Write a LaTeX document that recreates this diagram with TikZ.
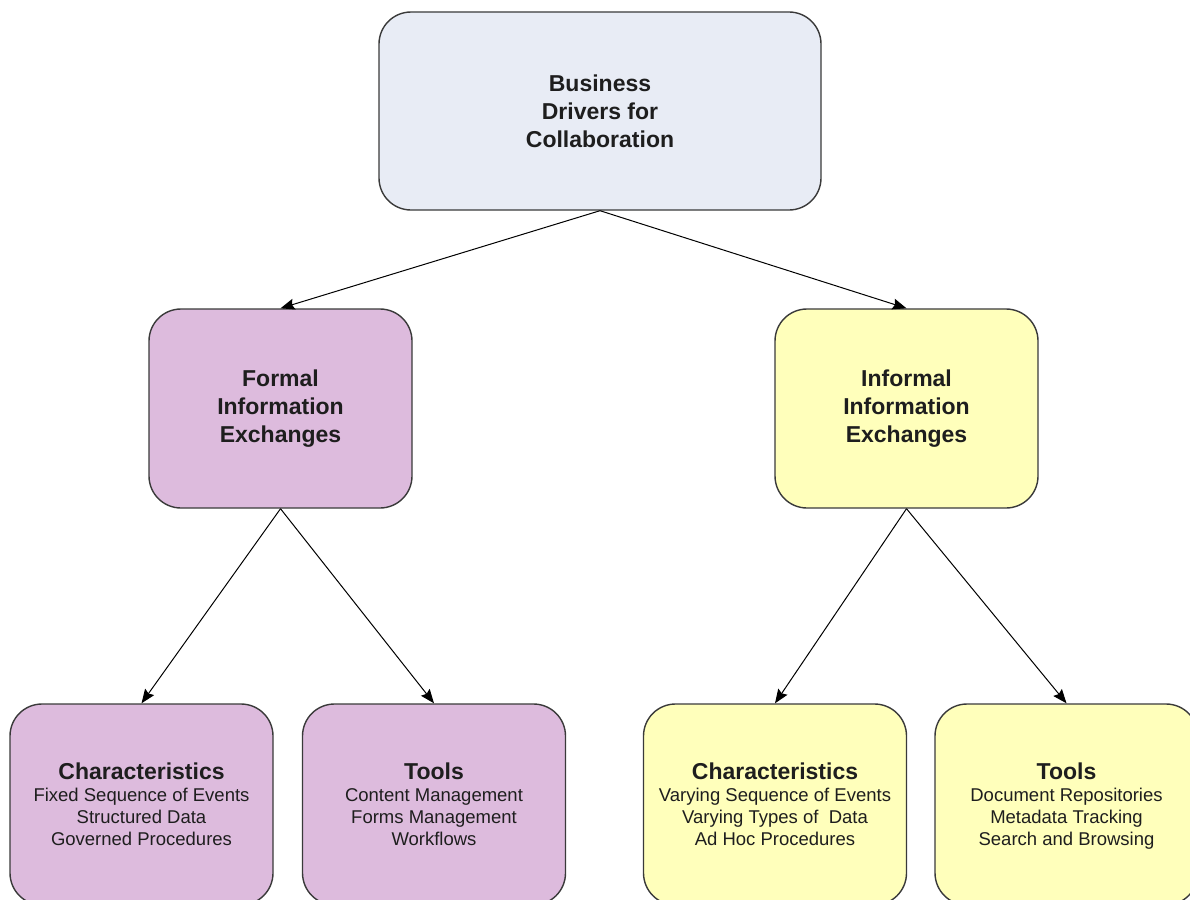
\documentclass[tikz,border=0pt]{standalone}
\usepackage{fontspec}
\setmainfont{Liberation Sans}
\usetikzlibrary{arrows.meta}
\definecolor{topfill}{HTML}{E8ECF5}
\definecolor{purplefill}{HTML}{DDBBDD}
\definecolor{yellowfill}{HTML}{FFFFBB}
\definecolor{edgegray}{HTML}{3A3A3A}
\definecolor{txt}{HTML}{1E1E1E}
\newcommand{\hdr}[1]{{\fontsize{23}{25}\selectfont\bfseries #1}}
\tikzset{
  box/.style={draw=edgegray, line width=1.4pt, rounded corners=32pt, align=center, text=txt, inner sep=0pt},
  bigbox/.style={box, minimum width=442pt, minimum height=198pt, fill=topfill, font=\fontsize{23}{28}\selectfont\bfseries},
  midbox/.style={box, minimum width=263pt, minimum height=199pt, font=\fontsize{23}{28}\selectfont\bfseries},
  lowbox/.style={box, minimum width=263pt, minimum height=201pt},
  lowtext/.style={align=center, text=txt, inner sep=0pt, font=\fontsize{18.5}{22}\selectfont},
  conn/.style={draw=black, line width=1pt, -{Stealth[length=14pt,width=11pt,inset=2pt]}},
}
\begin{document}
\begin{tikzpicture}[x=1pt,y=-1pt]
\useasboundingbox (0,0) rectangle (1190,899);
\begin{scope}
\clip (0,0) rectangle (1190,899);
\node[bigbox] (top) at (600,111) {Business\\Drivers for\\Collaboration};
\node[midbox, fill=purplefill] (formal) at (280.5,408.5) {Formal\\Information\\Exchanges};
\node[midbox, fill=yellowfill] (informal) at (906.5,408.5) {Informal\\Information\\Exchanges};
\node[lowbox, fill=purplefill] (fchar) at (141.5,804.5) {};
\node[lowbox, fill=purplefill] (ftools) at (434,804.5) {};
\node[lowbox, fill=yellowfill] (ichar) at (775,804.5) {};
\node[lowbox, fill=yellowfill] (itools) at (1066.5,804.5) {};
\end{scope}
\node[lowtext] (fchart) at ([yshift=-2pt]fchar.center) {\hdr{Characteristics}\\Fixed Sequence of Events\\Structured Data\\Governed Procedures\vphantom{g}};
\node[lowtext] (ftoolst) at ([yshift=-2pt]ftools.center) {\hdr{Tools}\\Content Management\\Forms Management\\Workflows\vphantom{g}};
\node[lowtext] (ichart) at ([yshift=-2pt]ichar.center) {\hdr{Characteristics}\\Varying Sequence of Events\\Varying Types of\ \ Data\\Ad Hoc Procedures\vphantom{g}};
\node[lowtext] (itoolst) at ([yshift=-2pt]itools.center) {\hdr{Tools}\\Document Repositories\\Metadata Tracking\\Search and Browsing};
\draw[conn] (top.south) -- (formal.north);
\draw[conn] (top.south) -- (informal.north);
\draw[conn] (formal.south) -- (fchar.north);
\draw[conn] (formal.south) -- (ftools.north);
\draw[conn] (informal.south) -- (ichar.north);
\draw[conn] (informal.south) -- (itools.north);
\end{tikzpicture}
\end{document}
